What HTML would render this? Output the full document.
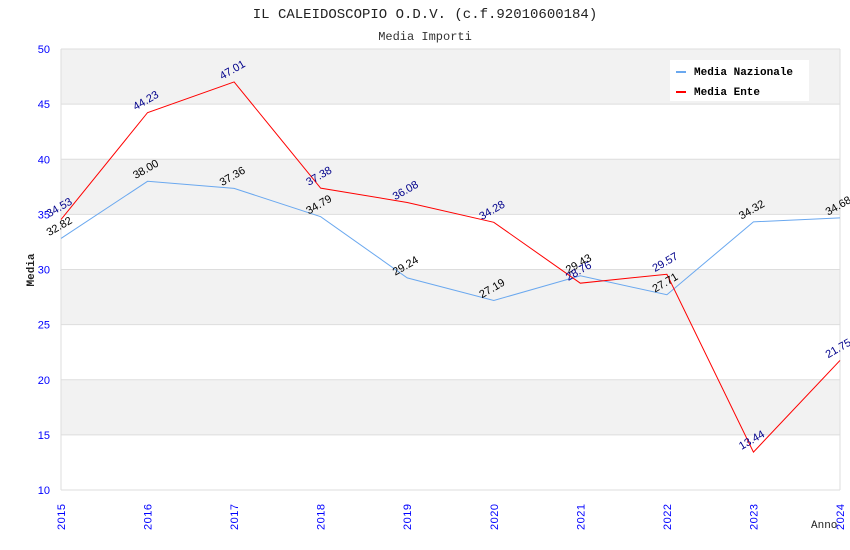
<!DOCTYPE html>
<html><head><meta charset="utf-8"><style>
body{margin:0;background:#fff;}
svg{display:block;}
</style></head><body>
<svg id="chart" width="850" height="550" xmlns="http://www.w3.org/2000/svg" font-family="Liberation Sans, sans-serif">
<text x="425" y="18" text-anchor="middle" font-family="Liberation Mono, monospace" font-size="14" fill="#222">IL CALEIDOSCOPIO O.D.V. (c.f.92010600184)</text>
<text x="425" y="40" text-anchor="middle" font-family="Liberation Mono, monospace" font-size="12" fill="#333">Media Importi</text>
<g id="bands"></g>
<g id="grid"></g>
<g id="axes"></g>
<g id="series"></g>
<g id="labels"></g>
<text x="0" y="0" transform="translate(34,270) rotate(-90)" text-anchor="middle" font-family="Liberation Mono, monospace" font-size="11" font-weight="bold" fill="#222">Media</text>
<text x="811" y="528" font-family="Liberation Mono, monospace" font-size="11" fill="#222">Anno</text>
<g>
<rect x="670" y="60" width="139" height="41" fill="#fff"/>
<rect x="676" y="71" width="10" height="2" fill="#6aa8ef"/>
<text x="694" y="75" font-family="Liberation Mono, monospace" font-size="11" font-weight="bold" fill="#000">Media Nazionale</text>
<rect x="676" y="91" width="10" height="2" fill="#f00"/>
<text x="694" y="95" font-family="Liberation Mono, monospace" font-size="11" font-weight="bold" fill="#000">Media Ente</text>
</g>
</svg>
<script>
const years = [2015,2016,2017,2018,2019,2020,2021,2022,2023,2024];
const nazionale = [32.82,38.00,37.36,34.79,29.24,27.19,29.43,27.71,34.32,34.68];
const ente = [34.53,44.23,47.01,37.38,36.08,34.28,28.76,29.57,13.44,21.75];
const yTicks = [10,15,20,25,30,35,40,45,50];

const NS='http://www.w3.org/2000/svg';
const L=61,R=840,T=49,B=490,YMIN=10,YMAX=50;
const x=i=>L+(R-L)*i/(years.length-1);
const y=v=>B-(v-YMIN)/(YMAX-YMIN)*(B-T);
function mk(tag,attrs,parent){const e=document.createElementNS(NS,tag);for(const k in attrs)e.setAttribute(k,attrs[k]);document.getElementById(parent).appendChild(e);return e;}

for(let i=0;i<yTicks.length-1;i++){
  if(i%2===1){
    const r=mk('rect',{x:L,y:y(yTicks[i+1]),width:R-L,height:y(yTicks[i])-y(yTicks[i+1]),fill:'#f2f2f2'},'bands');
    
    
  }
}
yTicks.forEach(t=>{
  const l=mk('line',{x1:L,x2:R,y1:y(t),y2:y(t),stroke:'#ddd','stroke-width':1},'grid');
  
  
  const tx=mk('text',{x:50,y:y(t)+4,'text-anchor':'end','font-size':11,fill:'#00f'},'axes');
  tx.textContent=t;
  
  
});
const ax=mk('line',{x1:L,x2:L,y1:T,y2:B,stroke:'#ddd'},'axes');


const ar=mk('line',{x1:R,x2:R,y1:T,y2:B,stroke:'#ddd'},'axes');


years.forEach((yr,i)=>{
  const tx=mk('text',{x:0,y:0,transform:`translate(${x(i)+4},${530}) rotate(-90)`,'font-size':11,fill:'#00f','letter-spacing':'0.5'},'axes');
  tx.textContent=yr;
  
  
});
function series(vals,color,labelColor,name){
  const p=mk('polyline',{points:vals.map((v,i)=>x(i)+','+y(v)).join(' '),fill:'none',stroke:color,'stroke-width':1},'series');
  
  
  vals.forEach((v,i)=>{
    const t=mk('text',{x:0,y:0,transform:`translate(${x(i)},${y(v)-9}) rotate(-30)`,'text-anchor':'middle','font-size':11,fill:labelColor},'labels');
    t.textContent=v.toFixed(2);
    
    
  });
}
series(nazionale,'#6aa8ef','#000','nazionale');
series(ente,'#f00','#00008b','ente');
</script>
</body></html>
